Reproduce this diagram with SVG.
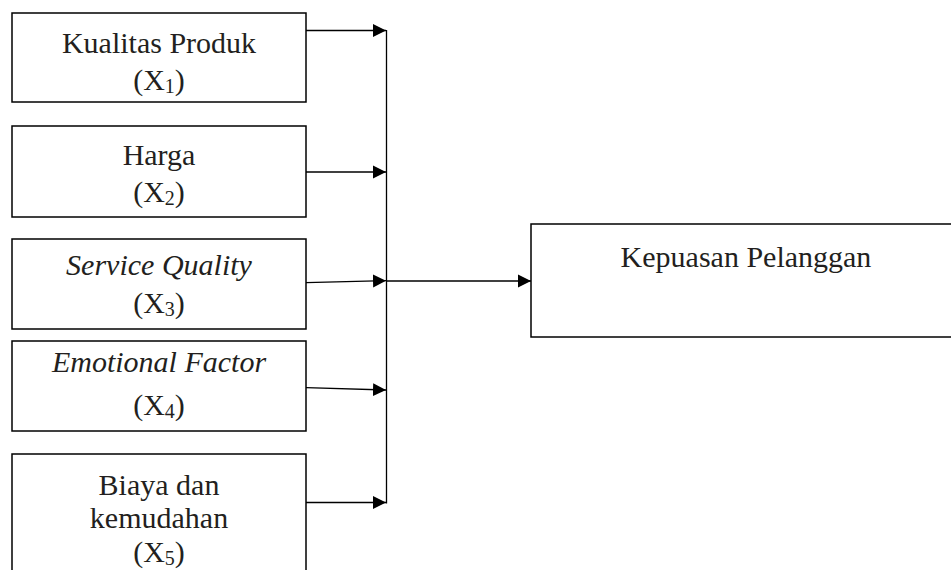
<svg xmlns="http://www.w3.org/2000/svg" width="951" height="570" viewBox="0 0 951 570">
<style>
.box{fill:#fff;stroke:#000;stroke-width:1.5}
.t{font-family:"Liberation Serif","Times New Roman",serif;font-size:30px;fill:#231f20;text-anchor:middle}
.i{font-style:italic}
.s{font-size:20px}
.c{fill:none;stroke:#000;stroke-width:1.3}
</style>
<defs>
<marker id="ah" markerUnits="userSpaceOnUse" markerWidth="14" markerHeight="14" viewBox="0 0 14 14" refX="13" refY="7" orient="auto">
<path d="M0,0.5 L13,7 L0,13.5 Z" fill="#000"/>
</marker>
</defs>
<rect width="951" height="570" fill="#fff"/>
<g id="x1">
<rect class="box" x="12" y="13" width="294" height="89"/>
<text class="t" x="159" y="53">Kualitas Produk</text>
<text class="t" x="159" y="90">(X<tspan class="s" dy="3">1</tspan><tspan dy="-3">)</tspan></text>
</g>
<g id="x2">
<rect class="box" x="12" y="126" width="294" height="91"/>
<text class="t" x="159" y="165">Harga</text>
<text class="t" x="159" y="202">(X<tspan class="s" dy="3">2</tspan><tspan dy="-3">)</tspan></text>
</g>
<g id="x3">
<rect class="box" x="12" y="239" width="294" height="90"/>
<text class="t i" x="159" y="275">Service Quality</text>
<text class="t" x="159" y="313">(X<tspan class="s" dy="3">3</tspan><tspan dy="-3">)</tspan></text>
</g>
<g id="x4">
<rect class="box" x="12" y="341" width="294" height="90"/>
<text class="t i" x="159" y="372">Emotional Factor</text>
<text class="t" x="159" y="415">(X<tspan class="s" dy="3">4</tspan><tspan dy="-3">)</tspan></text>
</g>
<g id="x5">
<rect class="box" x="12" y="454" width="294" height="130"/>
<text class="t" x="159" y="495">Biaya dan</text>
<text class="t" x="159" y="528">kemudahan</text>
<text class="t" x="159" y="562">(X<tspan class="s" dy="3">5</tspan><tspan dy="-3">)</tspan></text>
</g>
<g id="y">
<rect class="box" x="531" y="224" width="440" height="113"/>
<text class="t" x="746" y="267">Kepuasan Pelanggan</text>
</g>
<g id="connectors">
<line class="c" x1="306" y1="30.5" x2="386" y2="30.5" marker-end="url(#ah)"/>
<line class="c" x1="306" y1="172" x2="386" y2="172" marker-end="url(#ah)"/>
<line class="c" x1="306" y1="282.7" x2="386" y2="280.7" marker-end="url(#ah)"/>
<line class="c" x1="306" y1="387.7" x2="386" y2="390" marker-end="url(#ah)"/>
<line class="c" x1="306" y1="502.5" x2="386" y2="502.5" marker-end="url(#ah)"/>
<line class="c" x1="386.5" y1="30" x2="386.5" y2="503.5"/>
<line class="c" x1="386.5" y1="281" x2="531" y2="281" marker-end="url(#ah)"/>
</g>
</svg>
